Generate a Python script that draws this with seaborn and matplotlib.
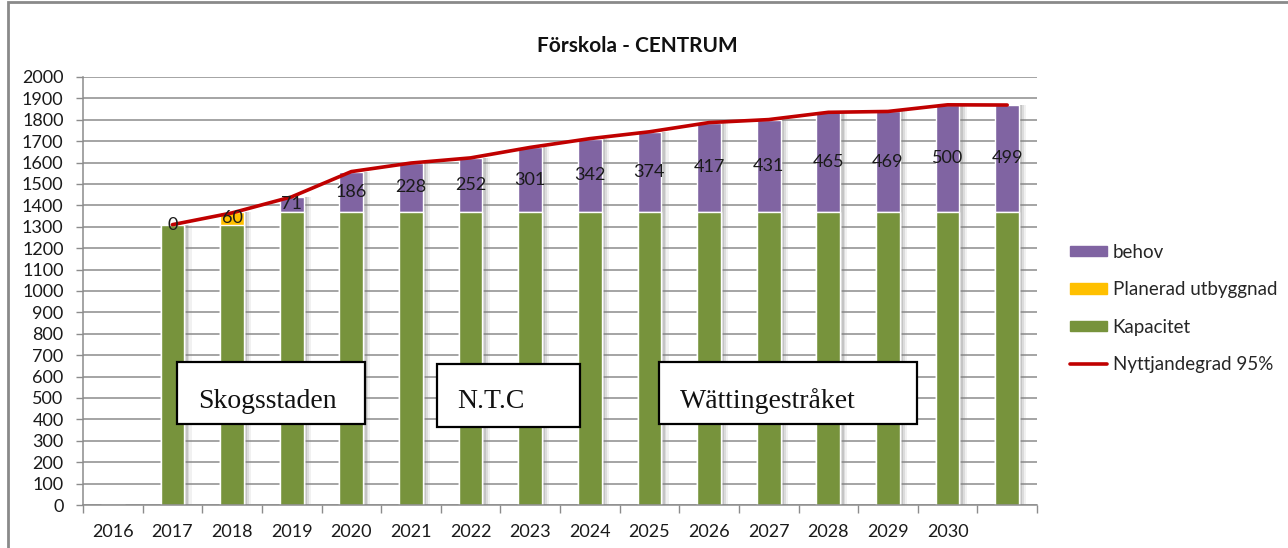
import numpy as np
import pandas as pd
import matplotlib
matplotlib.use("Agg")
import matplotlib.pyplot as plt
import seaborn as sns
from matplotlib.patches import Patch, Rectangle
from matplotlib.lines import Line2D

sns.set_style("white")
plt.rcParams["font.family"] = ["Lato", "DejaVu Sans"]

# ---------- data ----------
years = ["2016", "2017", "2018", "2019", "2020", "2021", "2022", "2023",
         "2024", "2025", "2026", "2027", "2028", "2029", "2030", ""]
kapacitet = [0, 1310, 1310, 1370, 1370, 1370, 1370, 1370,
             1370, 1370, 1370, 1370, 1370, 1370, 1370, 1370]
planerad = [0, 0, 60, 0, 0, 0, 0, 0, 0, 0, 0, 0, 0, 0, 0, 0]
behov = [np.nan, 0, np.nan, 71, 186, 228, 252, 301,
         342, 374, 417, 431, 465, 469, 500, 499]
nyttjande = [np.nan, 1310, 1365, 1440, 1558, 1598, 1622, 1671,
             1712, 1744, 1787, 1801, 1835, 1839, 1870, 1869]
areas = ["Skogsstaden", "N.T.C", "Wättingestråket"]

c_green = "#77933C"
c_purple = "#8064A2"
c_yellow = "#FFC000"
c_red = "#C00000"
c_grid = "#8C8C8C"

df = pd.DataFrame({"year": years, "kap": kapacitet, "plan": planerad,
                   "behov": behov, "line": nyttjande})
df["kap_plan"] = df["kap"] + df["plan"]
df["total"] = df["kap_plan"] + df["behov"].fillna(0)
pos = np.arange(len(years))

W, H = 1288, 548
fig = plt.figure(figsize=(W / 100, H / 100), dpi=100)
ax = fig.add_axes([83 / W, 1 - 505 / H, (1037 - 83) / W, (505 - 77) / H])

# soft bar shadows
for off, wd, al in [(0.06, 0.52, 0.10), (0.05, 0.47, 0.18), (0.04, 0.43, 0.25)]:
    ax.bar(pos[1:] + off, df["total"][1:], width=wd, color="#7f7f7f",
           alpha=al, zorder=1, linewidth=0)

# stacked bars drawn tallest first
sns.barplot(data=df, x="year", y="total", order=years, color=c_purple,
            width=0.4, saturation=1, ax=ax, zorder=2)
sns.barplot(data=df, x="year", y="kap_plan", order=years, color=c_yellow,
            width=0.4, saturation=1, ax=ax, zorder=2)
sns.barplot(data=df, x="year", y="kap", order=years, color=c_green,
            width=0.4, saturation=1, ax=ax, zorder=2)

sns.lineplot(x=pos[1:], y=df["line"][1:], color=c_red, linewidth=2.6,
             ax=ax, zorder=4)

# data labels
for i in range(len(years)):
    if df["plan"][i] > 0:
        ax.text(i, df["kap"][i] + df["plan"][i] / 2, f"{planerad[i]}",
                ha="center", va="center", fontsize=13, color="#1a1a1a", zorder=5)
    if not np.isnan(behov[i]):
        ax.text(i, df["kap_plan"][i] + behov[i] / 2, f"{int(behov[i])}",
                ha="center", va="center", fontsize=13, color="#1a1a1a", zorder=5)

# axes styling
ax.set_xlim(-0.5, len(years) - 0.5)
ax.set_ylim(0, 2000)
ax.set_yticks(np.arange(0, 2001, 100))
ax.set_xticks(pos)
ax.set_xticklabels(years)
ax.set_xticks(np.arange(-0.5, len(years)), minor=True)
ax.set_xlabel("")
ax.set_ylabel("")
ax.grid(axis="y", color=c_grid, linewidth=1.1)
ax.set_axisbelow(True)
for s in ["top", "right"]:
    ax.spines[s].set_visible(False)
for s in ["left", "bottom"]:
    ax.spines[s].set_color(c_grid)
    ax.spines[s].set_linewidth(1.1)
ax.tick_params(axis="y", which="major", direction="out", length=5, width=1,
               color=c_grid, pad=9, labelsize=13, labelcolor="#1a1a1a", left=True)
ax.tick_params(axis="x", which="major", length=0, pad=14, labelsize=13,
               labelcolor="#1a1a1a")
ax.tick_params(axis="x", which="minor", direction="out", length=6, width=1,
               color=c_grid, bottom=True)

# title
fig.text(637 / W, 1 - 46 / H, "Förskola - CENTRUM", ha="center", va="center",
         fontsize=15, fontweight="bold", color="#111111")

# area boxes
boxes = [(177, 362, 365, 424, 198), (437, 364, 580, 427, 457),
         (659, 362, 917, 424, 680)]
for name, (x0, y0, x1, y1, tx) in zip(areas, boxes):
    fig.add_artist(Rectangle((x0 / W, 1 - y1 / H), (x1 - x0) / W, (y1 - y0) / H,
                             transform=fig.transFigure, facecolor="white",
                             edgecolor="black", linewidth=1.6, zorder=6))
    fig.text(tx / W, 1 - 408 / H, name, ha="left", va="baseline",
             fontsize=20, family=["Liberation Serif", "DejaVu Serif"],
             color="#111111", zorder=7)

# legend
handles = [Patch(color=c_purple), Patch(color=c_yellow), Patch(color=c_green),
           Line2D([0], [0], color=c_red, linewidth=2.6)]
labels = ["behov", "Planerad utbyggnad", "Kapacitet", "Nyttjandegrad 95%"]
fig.legend(handles, labels, loc="upper left",
           bbox_to_anchor=(1062 / W, 1 - 236 / H), frameon=False,
           fontsize=13.5, handlelength=2.0, handleheight=0.5,
           handletextpad=0.3, labelspacing=1.1, borderaxespad=0)

# outer chart border (cut off on right and bottom)
fig.add_artist(Rectangle((8 / W, -0.1), 1.2, 0.1 + 1 - 2 / H,
                         transform=fig.transFigure, fill=False,
                         edgecolor="#8a8a8a", linewidth=2, zorder=8))

fig.savefig("out.png", dpi=100)
